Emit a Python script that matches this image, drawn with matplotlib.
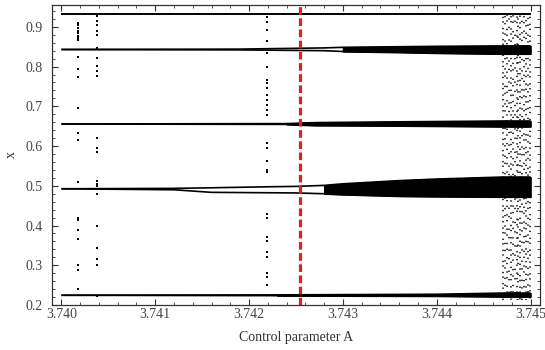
import numpy as np
import matplotlib
matplotlib.use("Agg")
import matplotlib.pyplot as plt
from matplotlib.ticker import MultipleLocator

plt.rcParams['font.family'] = ['Liberation Serif', 'DejaVu Serif']

# branches of the period-5 window: (A, lower edge, upper edge)
A93 = [3.7400, 3.7450]
lo93 = [0.932, 0.932]
hi93 = [0.932, 0.932]

A84 = [3.7400, 3.7419, 3.7428, 3.7430, 3.7436, 3.7440, 3.7447, 3.7450]
lo84 = [0.843, 0.842, 0.840, 0.838, 0.836, 0.834, 0.832, 0.832]
hi84 = [0.843, 0.844, 0.847, 0.8485, 0.850, 0.851, 0.852, 0.852]

A65 = [3.7400, 3.7424, 3.7427, 3.7436, 3.7447, 3.7450]
lo65 = [0.6555, 0.6545, 0.652, 0.651, 0.649, 0.649]
hi65 = [0.6555, 0.6565, 0.659, 0.661, 0.663, 0.663]

A49 = [3.7400, 3.7412, 3.7416, 3.7422, 3.7425, 3.7428, 3.7430, 3.7436, 3.7440, 3.7447, 3.7450]
lo49 = [0.4925, 0.490, 0.4835, 0.4825, 0.482, 0.480, 0.478, 0.474, 0.473, 0.472, 0.472]
hi49 = [0.4925, 0.4935, 0.495, 0.4975, 0.4985, 0.501, 0.505, 0.513, 0.517, 0.522, 0.522]

A22 = [3.7400, 3.7423, 3.7440, 3.7447, 3.7450]
lo22 = [0.2245, 0.2235, 0.2225, 0.221, 0.221]
hi22 = [0.2245, 0.2255, 0.227, 0.230, 0.230]

# where each branch turns into a solid (chaotic) band
band_start = {'93': 3.7451, '84': 3.7430, '65': 3.7424, '49': 3.7428, '22': 3.7423}

# transient streaks
streak_A = [3.74018, 3.74038, 3.74219]
streak_x = [
    [0.91, 0.905, 0.898, 0.89, 0.885, 0.878, 0.873, 0.868, 0.824, 0.795, 0.773,
     0.695, 0.633, 0.615, 0.51, 0.42, 0.413, 0.389, 0.365, 0.30, 0.287, 0.24],
    [0.928, 0.915, 0.905, 0.89, 0.88, 0.846, 0.822, 0.802, 0.788, 0.776, 0.62,
     0.595, 0.585, 0.513, 0.505, 0.499, 0.48, 0.398, 0.343, 0.315, 0.30, 0.222],
    [0.924, 0.912, 0.892, 0.864, 0.835, 0.798, 0.766, 0.758, 0.745, 0.728, 0.716,
     0.703, 0.691, 0.678, 0.607, 0.595, 0.563, 0.54, 0.535, 0.43, 0.418, 0.372,
     0.362, 0.333, 0.32, 0.28, 0.27, 0.25],
]

# intermittent chaos after the crisis
chaos_A = [3.74471, 3.74473, 3.74475, 3.74477, 3.74479, 3.74481, 3.74483, 3.74485,
           3.74487, 3.74489, 3.74491, 3.74493, 3.74495, 3.74497, 3.74499]
chaos_lo, chaos_hi = 0.212, 0.935
chaos_gap = [2.1, 3.7, 2.9, 4.6, 2.4, 3.3, 5.2, 2.7, 3.9, 2.2, 4.1, 3.0, 2.5, 3.5, 2.3]

marked_A = 3.74254

fig = plt.figure(figsize=(5.45, 3.5), dpi=100)
ax = fig.add_axes([52/545, 45/350, 488/545, 300/350])

branches = [('93', A93, lo93, hi93), ('84', A84, lo84, hi84), ('65', A65, lo65, hi65),
            ('49', A49, lo49, hi49), ('22', A22, lo22, hi22)]
for key, A, lo, hi in branches:
    A = np.array(A); lo = np.array(lo); hi = np.array(hi)
    ax.plot(A, lo, color='black', lw=1.2, solid_capstyle='butt')
    ax.plot(A, hi, color='black', lw=1.2, solid_capstyle='butt')
    m = A >= band_start[key]
    if m.sum() > 1:
        ax.fill_between(A[m], lo[m], hi[m], color='black', lw=1.0)

for a, xs in zip(streak_A, streak_x):
    ax.scatter([a]*len(xs), xs, s=1.6, marker='s', color='black', lw=0)

for i, (a, g) in enumerate(zip(chaos_A, chaos_gap)):
    ax.vlines(a, chaos_lo, chaos_hi, color='black', lw=1.1,
              linestyle=((i * 2.3) % 6, (0.9, g, 0.9, g * 1.6)))

ax.axvline(marked_A, color='#e0201c', lw=2.3, dashes=(2.4, 1.1))

ax.set_xlim(3.7399, 3.7451)
ax.set_ylim(0.2, 0.955)
ax.xaxis.set_major_locator(MultipleLocator(0.001))
ax.xaxis.set_minor_locator(MultipleLocator(0.0002))
ax.yaxis.set_major_locator(MultipleLocator(0.1))
ax.yaxis.set_minor_locator(MultipleLocator(0.02))
ax.xaxis.set_major_formatter(plt.FuncFormatter(lambda v, p: f"{v:.3f}"))
ax.yaxis.set_major_formatter(plt.FuncFormatter(lambda v, p: f"{v:.1f}"))
ax.tick_params(which='both', direction='in', top=True, right=True, colors='#333333',
               labelcolor='#444444', labelsize=10)
ax.tick_params(which='major', length=4.5, width=0.8)
ax.tick_params(which='minor', length=2.5, width=0.6)
ax.tick_params(axis='x', pad=2.5)
ax.tick_params(axis='y', pad=7)
for s in ax.spines.values():
    s.set_color('#333333')
    s.set_linewidth(0.9)

ax.set_xlabel('Control parameter A', fontsize=10, color='#333333', labelpad=7)
ax.set_ylabel('x', fontsize=10, color='#333333', labelpad=5)

fig.savefig('out.png', dpi=100)
